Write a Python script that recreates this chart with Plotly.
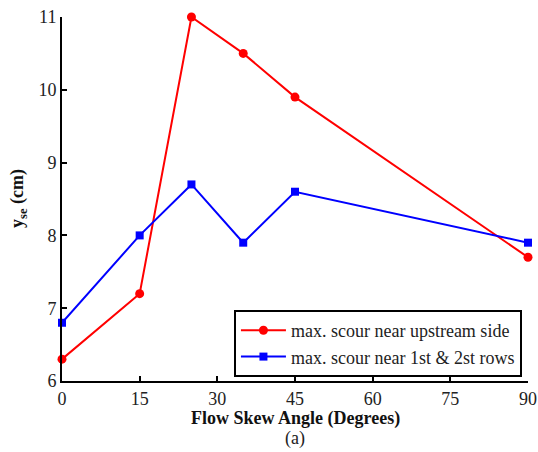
import plotly.graph_objects as go

angles = [0, 15, 25, 35, 45, 90]
upstream = [6.3, 7.2, 11.0, 10.5, 9.9, 7.7]
rows12 = [6.8, 8.0, 8.7, 7.9, 8.6, 7.9]
xticks = [0, 15, 30, 45, 60, 75, 90]
yticks = [6, 7, 8, 9, 10, 11]

serif = "Liberation Serif, Times New Roman, serif"

fig = go.Figure()
fig.add_trace(go.Scatter(x=angles, y=upstream, mode="lines+markers",
                         name="max. scour near upstream side",
                         line=dict(color="#ff0000", width=2),
                         marker=dict(symbol="circle", size=9, color="#ff0000"),
                         cliponaxis=False))
fig.add_trace(go.Scatter(x=angles, y=rows12, mode="lines+markers",
                         name="max. scour near 1st & 2st rows",
                         line=dict(color="#0000ff", width=2),
                         marker=dict(symbol="square", size=8, color="#0000ff"),
                         cliponaxis=False))

fig.update_layout(
    width=538, height=452,
    margin=dict(l=62, r=10, t=17, b=71),
    paper_bgcolor="white", plot_bgcolor="white",
    font=dict(family=serif, size=18, color="#222"),
    showlegend=True,
    legend=dict(x=0.987, y=0.011, xanchor="right", yanchor="bottom",
                bordercolor="black", borderwidth=2, bgcolor="white",
                font=dict(family=serif, size=18, color="#222"),
                tracegroupgap=0, itemwidth=45),
    xaxis=dict(range=[0, 90], tickvals=xticks, showgrid=False, zeroline=False,
               showline=True, linecolor="black", linewidth=2, automargin=False,
               ticks="inside", ticklen=5, tickwidth=2, tickcolor="black",
               tickfont=dict(family=serif, size=18, color="#222")),
    yaxis=dict(range=[6, 11], tickvals=yticks, showgrid=False, zeroline=False,
               showline=True, linecolor="black", linewidth=2, automargin=False,
               ticks="inside", ticklen=5, tickwidth=2, tickcolor="black",
               tickfont=dict(family=serif, size=18, color="#222")),
)
fig.add_annotation(text="<b>Flow Skew Angle (Degrees)</b>", xref="paper", yref="paper",
                   x=0.5, y=0, yshift=-37, showarrow=False, yanchor="middle",
                   font=dict(family=serif, size=18, color="#111"))
fig.add_annotation(text="(a)", xref="paper", yref="paper", x=0.5, y=0,
                   yshift=-57, showarrow=False, yanchor="middle",
                   font=dict(family=serif, size=18, color="#222"))
fig.add_annotation(text="<b>y<sub>se</sub> (cm)</b>", xref="paper", yref="paper",
                   x=0, y=0.5, xshift=-44, showarrow=False, textangle=-90,
                   xanchor="center", yanchor="middle",
                   font=dict(family=serif, size=18, color="#111"))

fig.write_html("out.html")
